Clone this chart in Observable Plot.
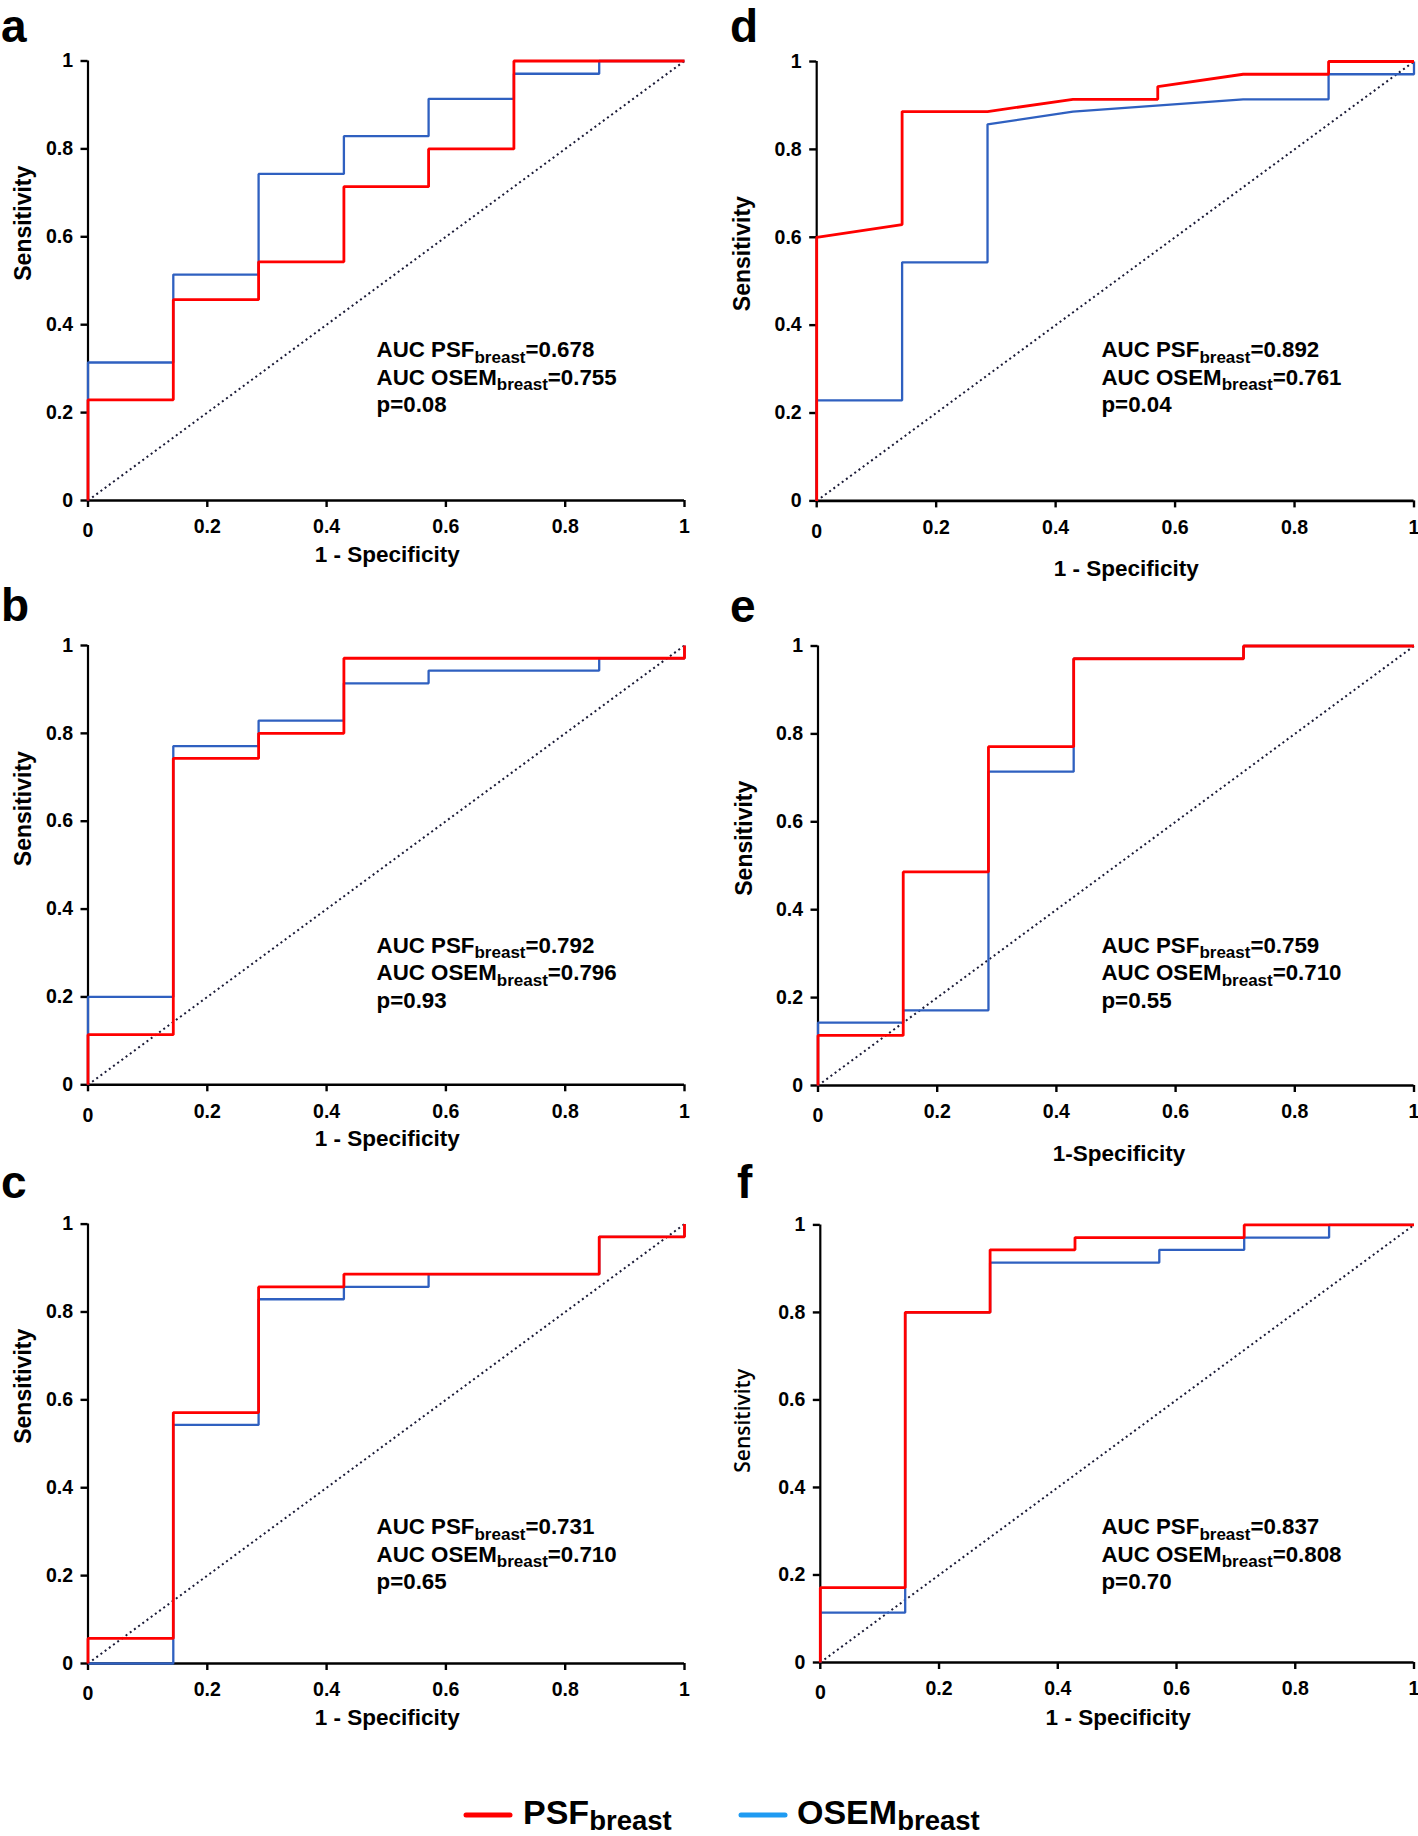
<!DOCTYPE html>
<html><head><meta charset="utf-8">
<script src="https://cdn.jsdelivr.net/npm/d3@7"></script>
<script src="https://cdn.jsdelivr.net/npm/@observablehq/plot@0.6"></script>
<style>
html,body{margin:0;padding:0;background:#fff;}
#root{position:relative;width:1418px;height:1836px;overflow:hidden;background:#fff;}
#root svg{position:absolute;overflow:visible;}
</style></head>
<body><div id="root"></div>
<script>
// ---------- data ----------
const xTicks = [0, 0.2, 0.4, 0.6, 0.8, 1];
const xTickLabels = ["0", "0.2", "0.4", "0.6", "0.8", "1"];
const yTicks = [0, 0.2, 0.4, 0.6, 0.8, 1];
const yTickLabels = ["0", "0.2", "0.4", "0.6", "0.8", "1"];
const diagX = [0, 1];
const diagY = [0, 1];
const panelLetters = ["a", "b", "c", "d", "e", "f"];
const xTitles = ["1 - Specificity", "1 - Specificity", "1 - Specificity", "1 - Specificity", "1-Specificity", "1 - Specificity"];
const yTitle = "Sensitivity";
const seriesNames = ["PSF", "OSEM"];
const seriesSub = "breast";
const aucPsf = ["0.678", "0.792", "0.731", "0.892", "0.759", "0.837"];
const aucOsem = ["0.755", "0.796", "0.710", "0.761", "0.710", "0.808"];
const pValues = ["0.08", "0.93", "0.65", "0.04", "0.55", "0.70"];

// panel a
const aPsfX  = [0, 0, 0.143, 0.143, 0.286, 0.286, 0.429, 0.429, 0.571, 0.571, 0.714, 0.714, 1];
const aPsfY  = [0, 0.229, 0.229, 0.457, 0.457, 0.543, 0.543, 0.714, 0.714, 0.8, 0.8, 1, 1];
const aOsemX = [0, 0, 0.143, 0.143, 0.286, 0.286, 0.429, 0.429, 0.571, 0.571, 0.714, 0.714, 0.857, 0.857, 1];
const aOsemY = [0, 0.314, 0.314, 0.514, 0.514, 0.743, 0.743, 0.829, 0.829, 0.914, 0.914, 0.971, 0.971, 1, 1];
// panel b
const bPsfX  = [0, 0, 0.143, 0.143, 0.286, 0.286, 0.429, 0.429, 1, 1];
const bPsfY  = [0, 0.114, 0.114, 0.743, 0.743, 0.8, 0.8, 0.971, 0.971, 1];
const bOsemX = [0, 0, 0.143, 0.143, 0.286, 0.286, 0.429, 0.429, 0.571, 0.571, 0.857, 0.857, 1, 1];
const bOsemY = [0, 0.2, 0.2, 0.771, 0.771, 0.829, 0.829, 0.914, 0.914, 0.943, 0.943, 0.971, 0.971, 1];
// panel c
const cPsfX  = [0, 0, 0.143, 0.143, 0.286, 0.286, 0.429, 0.429, 0.857, 0.857, 1, 1];
const cPsfY  = [0, 0.057, 0.057, 0.571, 0.571, 0.857, 0.857, 0.886, 0.886, 0.971, 0.971, 1];
const cOsemX = [0, 0.143, 0.143, 0.286, 0.286, 0.429, 0.429, 0.571, 0.571, 0.857, 0.857, 1, 1];
const cOsemY = [0, 0, 0.543, 0.543, 0.829, 0.829, 0.857, 0.857, 0.886, 0.886, 0.971, 0.971, 1];
// panel d
const dPsfX  = [0, 0, 0.143, 0.143, 0.286, 0.429, 0.571, 0.571, 0.714, 0.857, 0.857, 1];
const dPsfY  = [0, 0.6, 0.629, 0.886, 0.886, 0.914, 0.914, 0.943, 0.971, 0.971, 1, 1];
const dOsemX = [0, 0, 0.143, 0.143, 0.286, 0.286, 0.429, 0.714, 0.857, 0.857, 1, 1];
const dOsemY = [0, 0.229, 0.229, 0.543, 0.543, 0.857, 0.886, 0.914, 0.914, 0.971, 0.971, 1];
// panel e
const ePsfX  = [0, 0, 0.143, 0.143, 0.286, 0.286, 0.429, 0.429, 0.714, 0.714, 1];
const ePsfY  = [0, 0.114, 0.114, 0.486, 0.486, 0.771, 0.771, 0.971, 0.971, 1, 1];
const eOsemX = [0, 0, 0.143, 0.143, 0.286, 0.286, 0.429, 0.429, 0.714, 0.714, 1];
const eOsemY = [0, 0.143, 0.143, 0.171, 0.171, 0.714, 0.714, 0.971, 0.971, 1, 1];
// panel f
const fPsfX  = [0, 0, 0.143, 0.143, 0.286, 0.286, 0.429, 0.429, 0.714, 0.714, 1];
const fPsfY  = [0, 0.171, 0.171, 0.8, 0.8, 0.943, 0.943, 0.971, 0.971, 1, 1];
const fOsemX = [0, 0, 0.143, 0.143, 0.286, 0.286, 0.571, 0.571, 0.714, 0.714, 0.857, 0.857, 1];
const fOsemY = [0, 0.114, 0.114, 0.8, 0.8, 0.914, 0.914, 0.943, 0.943, 0.971, 0.971, 1, 1];

// ---------- styling / layout ----------
const FONT = "'Liberation Sans', Arial, Helvetica, sans-serif";
const RED = "#ff0000";
const BLUE = "#2f60c0";
const LEG_BLUE = "#1f9bf2";

const panels = [
  {xs: [aPsfX, aPsfY, aOsemX, aOsemY], left: 0,   top: 0,    w: 709, h: 590, x0: 87.5,  x1: 684,    yT: 60.5,   yB: 500,    xt: [1, 61.5], yt: [-64, 0],    ytStyle: 0, auc: [376.6, 357.4],  letter: [1, 42]},
  {xs: [bPsfX, bPsfY, bOsemX, bOsemY], left: 0,   top: 590,  w: 709, h: 580, x0: 87.5,  x1: 684,    yT: 645,    yB: 1084.3, xt: [1, 61],   yt: [-64, 1],    ytStyle: 0, auc: [376.6, 952.6],  letter: [1, 621]},
  {xs: [cPsfX, cPsfY, cOsemX, cOsemY], left: 0,   top: 1170, w: 709, h: 580, x0: 87.5,  x1: 684,    yT: 1223.6, yB: 1663,   xt: [1, 61],   yt: [-64, 0],    ytStyle: 0, auc: [376.6, 1534.4], letter: [1, 1198]},
  {xs: [dPsfX, dPsfY, dOsemX, dOsemY], left: 709, top: 0,    w: 709, h: 590, x0: 816.2, x1: 1413.5, yT: 61,     yB: 500.4,  xt: [11, 75],  yt: [-74, 30],   ytStyle: 0, auc: [1101.5, 357.4], letter: [730, 42]},
  {xs: [ePsfX, ePsfY, eOsemX, eOsemY], left: 709, top: 590,  w: 709, h: 580, x0: 817.5, x1: 1413.5, yT: 645.5,  yB: 1085,   xt: [3, 75],   yt: [-73.5, 30], ytStyle: 0, auc: [1101.5, 952.6], letter: [730, 622]},
  {xs: [fPsfX, fPsfY, fOsemX, fOsemY], left: 709, top: 1170, w: 709, h: 580, x0: 819.8, x1: 1413.5, yT: 1224.4, yB: 1662,   xt: [1, 62],   yt: [-77, 29],   ytStyle: 1, auc: [1101.5, 1534.4], letter: [737, 1198]}
];

const root = document.getElementById("root");
const toPts = (X, Y) => X.map((x, i) => ({x, y: Y[i]}));

panels.forEach((p, k) => {
  const [px, py, ox, oy] = p.xs;
  const psf = toPts(px, py);
  const osem = toPts(ox, oy);
  const diag = toPts(diagX, diagY);
  const svg = Plot.plot({
    width: p.w,
    height: p.h,
    marginLeft: p.x0 - p.left,
    marginRight: p.left + p.w - p.x1,
    marginTop: p.yT - p.top,
    marginBottom: p.top + p.h - p.yB,
    x: {domain: [0, 1]},
    y: {domain: [0, 1]},
    style: {fontFamily: FONT, fontWeight: "bold", fontSize: "19px", background: "transparent", color: "#000", overflow: "visible"},
    marks: [
      Plot.axisX({ticks: xTicks, tickFormat: d => xTickLabels[xTicks.indexOf(d)], tickSize: 7, tickPadding: 12, strokeWidth: 2.4, fontSize: 19.5, fontWeight: "bold", label: null}),
      Plot.axisY({ticks: yTicks, tickFormat: d => yTickLabels[yTicks.indexOf(d)], tickSize: 7, tickPadding: 8, strokeWidth: 2.4, fontSize: 19.5, fontWeight: "bold", label: null}),
      Plot.ruleY([0], {stroke: "#000", strokeWidth: 2.6}),
      Plot.ruleX([0], {stroke: "#000", strokeWidth: 2.2}),
      Plot.line(diag, {x: "x", y: "y", stroke: "#1a1a36", strokeWidth: 2, strokeDasharray: "2,3.2", strokeLinecap: "butt"}),
      Plot.line(osem, {x: "x", y: "y", stroke: BLUE, strokeWidth: 2.3, strokeLinejoin: "miter", strokeLinecap: "butt"}),
      Plot.line(psf, {x: "x", y: "y", stroke: RED, strokeWidth: 2.8, strokeLinejoin: "miter", strokeLinecap: "butt"}),
      Plot.text([xTitles[k]], {text: d => d, frameAnchor: "bottom", dx: p.xt[0], dy: p.xt[1], fontSize: 22.5, fontWeight: "bold", fill: "#000"}),
      p.ytStyle === 0
        ? Plot.text([yTitle], {text: d => d, frameAnchor: "left", dx: p.yt[0], dy: p.yt[1], rotate: -90, fontSize: 23, fontWeight: "bold", fill: "#000"})
        : Plot.text([yTitle], {text: d => d, frameAnchor: "left", dx: p.yt[0], dy: p.yt[1], rotate: -90, fontSize: 21, fontWeight: 600, fontFamily: "'Open Sans', sans-serif", fill: "#000"})
    ]
  });
  svg.style.left = p.left + "px";
  svg.style.top = p.top + "px";
  root.appendChild(svg);

  // the reference draws the x-axis "0" label slightly lower than the others
  d3.select(svg).selectAll("g[aria-label='x-axis tick label'] text")
    .filter(function() { return this.textContent === "0"; })
    .each(function() {
      const tr = this.getAttribute("transform") || "";
      this.setAttribute("transform", (tr + " translate(0,4)").trim());
    });

  // AUC annotation (with subscripts)
  const g = d3.select(svg).append("g")
    .attr("font-family", FONT).attr("font-weight", "bold").attr("fill", "#000")
    .attr("text-anchor", "start");
  const ax = p.auc[0] - p.left, ay = p.auc[1] - p.top;
  const lines = [
    ["AUC " + seriesNames[0], seriesSub, "=" + aucPsf[k]],
    ["AUC " + seriesNames[1], seriesSub, "=" + aucOsem[k]],
    ["p=" + pValues[k]]
  ];
  lines.forEach((ln, j) => {
    const t = g.append("text").attr("x", ax).attr("y", ay + j * 27.5).attr("font-size", 22.3).attr("text-anchor", "start");
    t.append("tspan").text(ln[0]);
    if (ln.length > 1) {
      t.append("tspan").attr("font-size", 17).attr("dy", 5.5).text(ln[1]);
      t.append("tspan").attr("dy", -5.5).text(ln[2]);
    }
  });
});

// overlay: panel letters + legend
const ov = d3.select(root).append("svg")
  .attr("width", 1418).attr("height", 1836)
  .style("left", "0px").style("top", "0px")
  .attr("font-family", FONT).attr("font-weight", "bold").attr("text-anchor", "start");
panels.forEach((p, k) => {
  ov.append("text").attr("x", p.letter[0]).attr("y", p.letter[1])
    .attr("font-size", 46).attr("fill", "#000").text(panelLetters[k]);
});
const legendItems = [
  {name: seriesNames[0], color: RED, lx: 466, tx: 523},
  {name: seriesNames[1], color: LEG_BLUE, lx: 741, tx: 797}
];
legendItems.forEach(it => {
  ov.append("line").attr("x1", it.lx).attr("x2", it.lx + 44).attr("y1", 1815).attr("y2", 1815)
    .attr("stroke", it.color).attr("stroke-width", 5).attr("stroke-linecap", "round");
  const t = ov.append("text").attr("x", it.tx).attr("y", 1824).attr("font-size", 34).attr("fill", "#000");
  t.append("tspan").text(it.name);
  t.append("tspan").attr("font-size", 27.5).attr("dy", 6).text(seriesSub);
});
</script>
</body></html>
